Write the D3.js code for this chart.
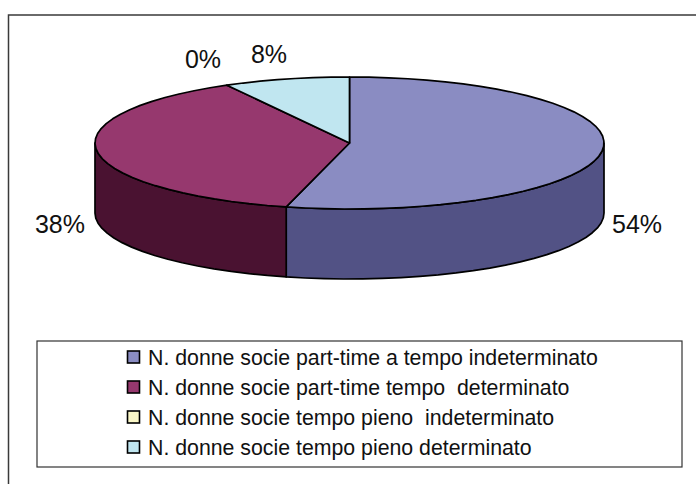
<!DOCTYPE html>
<html>
<head>
<meta charset="utf-8">
<script src="https://cdn.jsdelivr.net/npm/d3@7.9.0/dist/d3.min.js"></script>
<style>
  html, body { margin: 0; padding: 0; background: #fff; }
  svg { display: block; }
  text { font-family: "Liberation Sans", Arial, sans-serif; fill: #111; }
</style>
</head>
<body>
<div id="chart"></div>
<script>
// values as printed on the slices
const categories = [
  'N. donne socie part-time a tempo indeterminato',
  'N. donne socie part-time tempo  determinato',
  'N. donne socie tempo pieno  indeterminato',
  'N. donne socie tempo pieno determinato'
];
const shares = [54, 38, 0, 8];
const labels = ['54%', '38%', '0%', '8%'];
const topColors = ['#8a8cc2', '#96386e', '#fbf8c8', '#c0e6f0'];
const sideColors = ['#525285', '#4a1231', '#7d7c64', '#607378'];

const width = 696, height = 484;
const pieBox = { cx: 349.5, cy: 143, rx: 254.5, ry: 66, depth: 70 };
const labelPos = [
  { x: 612, y: 233, anchor: 'start' },
  { x: 85, y: 233, anchor: 'end' },
  { x: 203, y: 68, anchor: 'middle' },
  { x: 269, y: 63, anchor: 'middle' }
];

const svg = d3.select('#chart').append('svg')
  .attr('width', width)
  .attr('height', height);

// outer frame, cut off at the right and bottom of the picture
svg.append('rect')
  .attr('x', 8.5).attr('y', 15)
  .attr('width', width + 20).attr('height', height + 20)
  .attr('fill', '#fff')
  .attr('stroke', '#3a3a3a')
  .attr('stroke-width', 1.5);

const arcs = d3.pie().sort(null).value(d => d)(shares);

// screen position of an angle measured clockwise from 12 o'clock
const px = a => pieBox.cx + pieBox.rx * Math.sin(a);
const py = a => pieBox.cy - pieBox.ry * Math.cos(a);

const step = Math.PI / 40;
function sweep(a0, a1) {
  const n = Math.max(1, Math.ceil((a1 - a0) / step));
  return d3.range(n + 1).map(i => a0 + (a1 - a0) * i / n);
}
const line = d3.line();

// side wall: only the part of a slice facing the viewer (PI/2 .. 3PI/2)
const walls = svg.append('g').attr('class', 'walls');
arcs.forEach((d, i) => {
  const a0 = Math.max(d.startAngle, Math.PI / 2);
  const a1 = Math.min(d.endAngle, 3 * Math.PI / 2);
  if (a1 <= a0) return;
  const angles = sweep(a0, a1);
  const pts = angles.map(a => [px(a), py(a)])
    .concat(angles.slice().reverse().map(a => [px(a), py(a) + pieBox.depth]));
  walls.append('path')
    .attr('d', line(pts) + 'Z')
    .attr('fill', sideColors[i])
    .attr('stroke', '#000')
    .attr('stroke-width', 1.7)
    .attr('stroke-linejoin', 'round');
});

// top face
const tops = svg.append('g').attr('class', 'tops');
arcs.forEach((d, i) => {
  if (d.endAngle - d.startAngle === 0) return;
  const pts = [[pieBox.cx, pieBox.cy]].concat(
    sweep(d.startAngle, d.endAngle).map(a => [px(a), py(a)]));
  tops.append('path')
    .attr('d', line(pts) + 'Z')
    .attr('fill', topColors[i])
    .attr('stroke', '#000')
    .attr('stroke-width', 1.7)
    .attr('stroke-linejoin', 'round');
});

// percent labels
svg.append('g').selectAll('text')
  .data(labels)
  .join('text')
  .attr('x', (d, i) => labelPos[i].x)
  .attr('y', (d, i) => labelPos[i].y)
  .attr('text-anchor', (d, i) => labelPos[i].anchor)
  .attr('font-size', 25)
  .text(d => d);

// legend
svg.append('rect')
  .attr('x', 37).attr('y', 341)
  .attr('width', 645).attr('height', 126)
  .attr('fill', '#fff')
  .attr('stroke', '#333')
  .attr('stroke-width', 1.2);

const rowY = d3.scalePoint()
  .domain(d3.range(categories.length))
  .range([357, 447]);

const rows = svg.append('g').selectAll('g')
  .data(categories)
  .join('g')
  .attr('transform', (d, i) => `translate(0,${rowY(i)})`);

rows.append('rect')
  .attr('x', 127.5).attr('y', -6)
  .attr('width', 12).attr('height', 12)
  .attr('fill', (d, i) => topColors[i])
  .attr('stroke', '#000')
  .attr('stroke-width', 1.6);

rows.append('text')
  .attr('x', 148).attr('y', 7.5)
  .attr('font-size', 21.3)
  .style('white-space', 'pre')
  .text(d => d);
</script>
</body>
</html>
